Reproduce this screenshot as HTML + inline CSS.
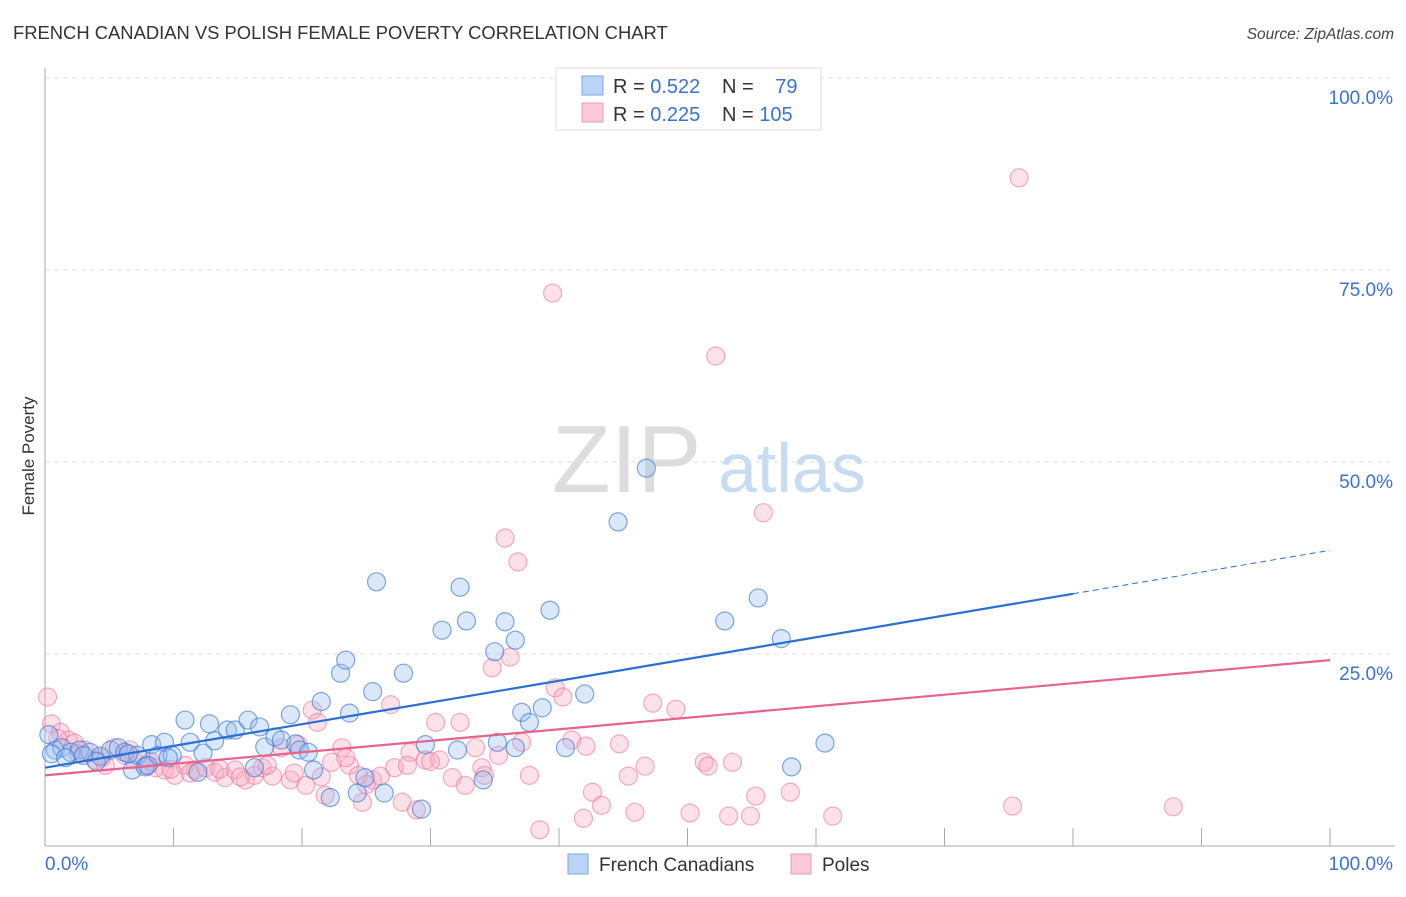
<!DOCTYPE html>
<html><head><meta charset="utf-8">
<style>
body{margin:0;background:#fff;font-family:"Liberation Sans",sans-serif;}
svg text{font-family:"Liberation Sans",sans-serif;}
</style></head>
<body>
<svg id="chart" width="1406" height="892" xmlns="http://www.w3.org/2000/svg">
<text x="13" y="39" font-size="18.4" fill="#333">FRENCH CANADIAN VS POLISH FEMALE POVERTY CORRELATION CHART</text>
<text x="1394" y="39" font-size="15.5" fill="#444" font-style="italic" text-anchor="end">Source: ZipAtlas.com</text>
<g>
<text x="552" y="492" font-size="96" fill="#ddd" font-family="Liberation Serif,serif">ZIP</text>
<text x="718" y="492" font-size="70" fill="#c7dcf3">atlas</text>
</g>
<g id="grid"></g>
<g id="axes"></g>
<g id="marks"></g>
<text transform="translate(34,456) rotate(-90)" font-size="17" fill="#333" text-anchor="middle">Female Poverty</text>
<g>
<rect x="556" y="68" width="265" height="62" fill="#fff" stroke="#ddd"/>
<rect x="582" y="76" width="21" height="19" fill="#b8d4f6" stroke="#7aa7e2"/>
<rect x="582" y="103" width="21" height="19" fill="#fcc9d7" stroke="#ee9ab2"/>
<text x="613" y="93" font-size="20" fill="#333">R = <tspan fill="#3a73d0">0.522</tspan></text>
<text x="722" y="93" font-size="20" fill="#333">N = <tspan fill="#3a73d0" dx="16">79</tspan></text>
<text x="613" y="121" font-size="20" fill="#333">R = <tspan fill="#3a73d0">0.225</tspan></text>
<text x="722" y="121" font-size="20" fill="#333">N = <tspan fill="#3a73d0">105</tspan></text>
</g>
<g>
<rect x="568" y="854" width="20" height="20" fill="#b8d4f6" stroke="#7aa7e2"/>
<text x="599" y="871" font-size="19" fill="#333">French Canadians</text>
<rect x="791" y="854" width="20" height="20" fill="#fcc9d7" stroke="#ee9ab2"/>
<text x="822" y="871" font-size="19" fill="#333">Poles</text>
</g>
</svg>
<script>
const yTicks=[25,50,75,100];
const yTickLabels=["25.0%","50.0%","75.0%","100.0%"];
const xTickCount=10;
const blueX=[0.8,1.3,2.0,2.7,3.5,4.3,5.1,5.7,6.2,6.8,7.2,7.8,8.3,8.8,9.3,9.9,10.9,11.3,11.9,12.3,12.8,13.2,14.2,14.8,15.8,16.3,16.7,17.1,17.9,18.4,19.1,19.5,19.8,20.5,20.9,21.5,22.2,23.0,23.4,23.7,24.3,24.9,25.5,25.8,26.4,27.9,29.3,29.6,30.9,32.1,32.3,32.8,34.1,35.0,35.2,35.8,36.6,36.6,37.1,37.7,38.7,39.3,40.5,42.0,44.6,46.8,52.9,55.5,57.3,58.1,60.7,0.3,0.5,1.6,3.0,4.0,6.5,8.0,9.6];
const blueY=[12.5,12.8,12.2,12.5,12.2,11.7,12.5,12.8,12.2,9.9,11.8,10.3,13.2,11.8,13.5,11.8,16.4,13.5,9.6,12.1,15.9,13.7,15.1,15.1,16.4,10.2,15.5,12.9,14.2,13.8,17.1,13.3,12.5,12.2,9.9,18.8,6.3,22.5,24.2,17.3,6.9,8.9,20.1,34.4,6.9,22.5,4.8,13.2,28.1,12.5,33.7,29.3,8.6,25.3,13.5,29.2,26.8,12.8,17.4,16.1,18.0,30.7,12.8,19.8,42.2,49.2,29.3,32.3,27.0,10.3,13.4,14.5,12.0,11.5,11.8,11.0,12.0,10.5,11.5];
const pinkX=[0.2,0.5,1.2,1.8,2.3,3.1,3.9,4.7,5.4,6.2,6.9,7.8,8.6,9.3,10.1,10.9,11.7,12.5,13.2,14.0,14.8,15.6,16.3,16.9,17.7,18.4,19.1,19.7,20.3,20.8,21.2,21.8,22.3,23.1,23.7,24.4,24.7,25.5,26.1,26.9,27.2,27.8,28.4,28.9,29.6,30.4,30.7,31.7,32.3,32.7,33.5,34.0,34.2,34.8,35.3,35.8,36.2,36.8,37.1,37.7,38.5,39.5,39.7,40.3,41.0,41.9,42.1,42.6,43.3,44.7,45.4,45.9,46.7,47.3,49.1,50.2,51.3,51.6,52.2,53.2,53.5,54.9,55.3,55.9,58.0,61.3,75.3,75.8,87.8,1.0,2.6,4.4,6.6,8.2,9.8,11.3,13.6,15.2,17.3,19.4,21.5,23.4,25.0,28.2,30.0];
const pinkY=[19.4,15.9,14.8,13.8,13.4,12.5,11.2,10.5,12.8,11.8,11.2,10.5,10.2,9.9,9.2,10.5,9.9,10.2,9.6,8.9,9.9,8.6,9.2,10.2,9.1,12.8,8.6,13.2,7.9,17.7,16.1,6.6,10.9,12.8,10.5,9.2,5.7,8.6,9.1,18.4,10.2,5.7,12.2,4.7,11.2,16.1,11.2,8.9,16.1,7.9,12.8,10.2,9.2,23.2,11.8,40.1,24.6,37.0,13.5,9.2,2.1,72.0,20.6,19.4,13.8,3.6,13.0,7.0,5.3,13.3,9.1,4.4,10.4,18.6,17.8,4.3,10.9,10.4,63.8,3.9,10.9,3.9,6.5,43.4,7.0,3.9,5.2,87.0,5.1,14.0,12.0,11.5,12.5,11.0,10.0,9.5,10.0,9.0,10.5,9.5,9.0,11.5,8.0,10.5,11.0];
const blueFit=[10.2,0.283];
const pinkFit=[9.2,0.150];

const X0=45,X1=1330,Y0=846,Y1=78;
const sx=v=>X0+(X1-X0)*v/100;
const sy=v=>Y0-(Y0-Y1)*v/100;
const NS="http://www.w3.org/2000/svg";
function mk(tag,attrs,parent){const e=document.createElementNS(NS,tag);for(const k in attrs)e.setAttribute(k,attrs[k]);parent.appendChild(e);return e;}
const grid=document.getElementById('grid'),axes=document.getElementById('axes'),marks=document.getElementById('marks');
yTicks.forEach((t,i)=>{
  const l=mk('line',{x1:X0,x2:1395,y1:sy(t),y2:sy(t),stroke:'#ddd','stroke-dasharray':'5,4'},grid);
  
  
  const tx=mk('text',{x:1393,y:sy(t)+26,'font-size':19,fill:'#3a73d0','text-anchor':'end'},axes);
  tx.textContent=yTickLabels[i];
  
  
});
let a=mk('line',{x1:X0,x2:X0,y1:68,y2:Y0,stroke:'#aaa'},axes);


a=mk('line',{x1:X0,x2:1395,y1:Y0,y2:Y0,stroke:'#aaa'},axes);


for(let i=1;i<=xTickCount;i++){
  const t=mk('line',{x1:sx(i*10),x2:sx(i*10),y1:828,y2:Y0,stroke:'#aaa'},axes);
  
  
}
let tl=mk('text',{x:45,y:870,'font-size':19,fill:'#3a73d0'},axes);tl.textContent='0.0%';


tl=mk('text',{x:1393,y:870,'font-size':19,fill:'#3a73d0','text-anchor':'end'},axes);tl.textContent='100.0%';



pinkX.forEach((x,i)=>{
  const c=mk('circle',{cx:sx(x),cy:sy(pinkY[i]),r:9,fill:'rgba(248,170,192,0.35)',stroke:'rgba(236,120,155,0.6)','stroke-width':1.2},marks);
  
  
});
blueX.forEach((x,i)=>{
  const c=mk('circle',{cx:sx(x),cy:sy(blueY[i]),r:9,fill:'rgba(150,190,240,0.35)',stroke:'rgba(60,120,210,0.65)','stroke-width':1.2},marks);
  
  
});
let ln=mk('line',{x1:sx(0),y1:sy(blueFit[0]),x2:sx(80),y2:sy(blueFit[0]+blueFit[1]*80),stroke:'#2a6fd6','stroke-width':2.2},marks);


ln=mk('line',{x1:sx(80),y1:sy(blueFit[0]+blueFit[1]*80),x2:sx(100),y2:sy(blueFit[0]+blueFit[1]*100),stroke:'#2a6fd6','stroke-width':1,'stroke-dasharray':'6,4'},marks);


ln=mk('line',{x1:sx(0),y1:sy(pinkFit[0]),x2:sx(100),y2:sy(pinkFit[0]+pinkFit[1]*100),stroke:'#e8628e','stroke-width':2.2},marks);


</script>
</body></html>
